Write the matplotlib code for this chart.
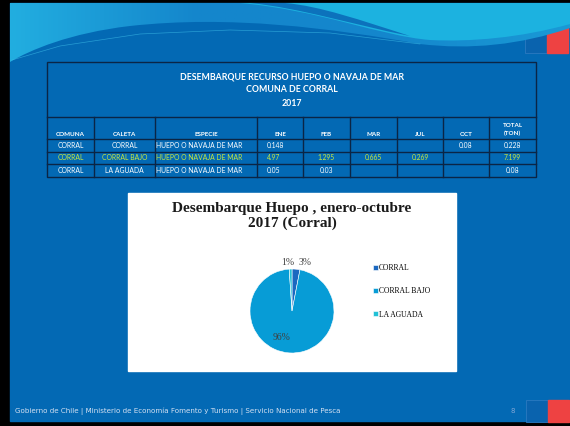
import numpy as np
import matplotlib.pyplot as plt
from matplotlib.patches import Rectangle, PathPatch
from matplotlib.path import Path

W, H = 570, 426

# ---- data ----
comunas = ['CORRAL', 'CORRAL', 'CORRAL']
caletas = ['CORRAL', 'CORRAL BAJO', 'LA AGUADA']
especies = ['HUEPO O NAVAJA DE MAR'] * 3
months = ['ENE', 'FEB', 'MAR', 'JUL', 'OCT']
landings = {
    'ENE': [0.148, 4.97, 0.05],
    'FEB': [None, 1.295, 0.03],
    'MAR': [None, 0.665, None],
    'JUL': [None, 0.269, None],
    'OCT': [0.08, None, None],
}
totals = [0.228, 7.199, 0.08]
headers = ['COMUNA', 'CALETA', 'ESPECIE'] + months + ['TOTAL\n(TON)']
table_title = ['DESEMBARQUE RECURSO HUEPO O NAVAJA DE MAR', 'COMUNA DE CORRAL', '2017']
pie_title = 'Desembarque Huepo , enero-octubre\n2017 (Corral)'
pie_colors = ['#1B68C0', '#079CD6', '#22C1D6']
footer = 'Gobierno de Chile | Ministerio de Economía Fomento y Turismo | Servicio Nacional de Pesca'

SLIDE = '#0369B4'
LINE = '#0B2545'
HILITE = '#CBE83A'
SANS = 'Lato'
SERIF = 'Liberation Serif'

fig = plt.figure(figsize=(W / 100, H / 100), dpi=100)
fig.patch.set_facecolor('black')
bg = fig.add_axes([0, 0, 1, 1])
bg.set_xlim(0, W)
bg.set_ylim(H, 0)
bg.axis('off')

# slide background
bg.add_patch(Rectangle((10, 3), 560, 418, color=SLIDE, zorder=0))

# corner squares
bg.add_patch(Rectangle((525, 25), 22, 28, facecolor='#0A63AE', edgecolor='#2C7AC0', lw=0.6, zorder=1))
bg.add_patch(Rectangle((547, 25), 21, 28, color='#EE4242', zorder=1))
bg.add_patch(Rectangle((526, 400), 22, 22, facecolor='#0A63AE', edgecolor='#2C7AC0', lw=0.6, zorder=1))
bg.add_patch(Rectangle((548, 400), 21, 22, color='#EE4242', zorder=1))

# header wave
M, L, C = Path.MOVETO, Path.LINETO, Path.CURVE4
light = Path([(10, 3), (570, 3), (570, 28),
              (520, 45), (470, 50), (420, 44),
              (330, 28), (230, 15), (130, 26),
              (70, 33), (30, 50), (10, 62), (10, 3)],
             [M, L, L, C, C, C, C, C, C, C, C, C, L])
lp = PathPatch(light, facecolor='none', edgecolor='none', zorder=2)
bg.add_patch(lp)
grad = np.linspace(0, 1, 256).reshape(1, -1)
im = bg.imshow(grad, extent=(10, 570, 70, 3), aspect='auto', zorder=2,
               cmap=plt.matplotlib.colors.LinearSegmentedColormap.from_list(
                   'w', ['#22AEE0', '#1486CC', '#1486CC', '#1A9AD6']))
im.set_clip_path(lp)

cyan = Path([(240, 3), (570, 3), (570, 24),
             (520, 38), (470, 42), (430, 40),
             (380, 36), (320, 10), (240, 3)],
            [M, L, L, C, C, C, C, C, C])
bg.add_patch(PathPatch(cyan, facecolor='#1CB2E0', edgecolor='none', zorder=3))
dark = Path([(250, 3), (300, 8), (350, 24), (410, 36),
             (360, 20), (320, 6), (285, 3)],
            [M, C, C, C, C, C, C])
bg.add_patch(PathPatch(dark, facecolor='#0C72BC', edgecolor='none', zorder=3))
bg.plot([12, 60, 140, 230, 330, 420], [60, 46, 34, 30, 33, 44], color='#3FC0EA', lw=0.5, alpha=0.6, zorder=3)

# ---- table ----
col_edges = [47, 94, 155, 257, 303, 350, 397, 443, 489, 536]
top, title_bot, head_bot = 62, 117, 139
row_edges = [139, 151.5, 164, 176.5]

lw = 1.0
bg.add_patch(Rectangle((col_edges[0], top), col_edges[-1] - col_edges[0], row_edges[-1] - top,
                       facecolor='none', edgecolor=LINE, lw=lw, zorder=4))
for y in [title_bot] + row_edges[:-1]:
    bg.plot([col_edges[0], col_edges[-1]], [y, y], color=LINE, lw=lw, zorder=4)
for x in col_edges[1:-1]:
    bg.plot([x, x], [title_bot, row_edges[-1]], color=LINE, lw=lw, zorder=4)

tx = (col_edges[0] + col_edges[-1]) / 2
for i, t in enumerate(table_title):
    bg.text(tx, 77 + i * 13, t, ha='center', va='center', color='white',
            fontsize=6.3, fontweight='bold', family=SANS, zorder=5)

for j, h in enumerate(headers):
    xc = (col_edges[j] + col_edges[j + 1]) / 2
    y = 129.5 if '\n' in h else 134
    bg.text(xc, y, h, ha='center', va='center', color='white', fontsize=4.5,
            fontweight='bold', family=SANS, linespacing=1.5, zorder=5)

for r in range(3):
    yc = (row_edges[r] + row_edges[r + 1]) / 2
    col = HILITE if r == 1 else 'white'
    kw = dict(va='center', color=col, fontsize=4.9, family=SANS, zorder=5)
    bg.text((col_edges[0] + col_edges[1]) / 2, yc, comunas[r], ha='center', **kw)
    bg.text((col_edges[1] + col_edges[2]) / 2, yc, caletas[r], ha='center', **kw)
    bg.text(col_edges[2] + 1.5, yc, especies[r], ha='left', **kw)
    for j, m in enumerate(months):
        v = landings[m][r]
        if v is None:
            continue
        if m == 'ENE':
            bg.text(col_edges[3] + 10, yc, f'{v:g}', ha='left', **kw)
        else:
            bg.text((col_edges[3 + j] + col_edges[4 + j]) / 2, yc, f'{v:g}', ha='center', **kw)
    bg.text((col_edges[-2] + col_edges[-1]) / 2, yc, f'{totals[r]:g}', ha='center', **kw)

# ---- pie chart panel ----
bg.add_patch(Rectangle((128, 193), 328, 178, color='white', zorder=4))
bg.text(292, 216, pie_title, ha='center', va='center', fontsize=11, fontweight='bold',
        family=SERIF, color='#1a1a1a', linespacing=1.2, zorder=5)

cx, cy, rad, half = 292, 311, 42, 60
pax = fig.add_axes([(cx - half) / W, 1 - (cy + half) / H, 2 * half / W, 2 * half / H])
wedges, texts, autotexts = pax.pie(
    totals, colors=pie_colors, startangle=90, counterclock=False,
    autopct='%1.0f%%', pctdistance=1.15, radius=1,
    wedgeprops=dict(linewidth=0.4, edgecolor='white'),
    textprops=dict(family=SERIF, size=7, color='#404040'))
# small slices: spread labels apart; big slice label inside
px, py = autotexts[0].get_position()
autotexts[0].set_position((px + 0.05, py))
autotexts[0].set_ha('left')
px, py = autotexts[2].get_position()
autotexts[2].set_position((px + 0.1, py))
autotexts[2].set_ha('right')
big = autotexts[1]
big.set_position(tuple(np.array(big.get_position()) * 0.64 / 1.15))
big.set_ha('right')
pax.set_xlim(-half / rad, half / rad)
pax.set_ylim(-half / rad, half / rad)
pax.set_aspect('equal')
pax.axis('off')

fig.legend(wedges, caletas, loc='upper left', bbox_to_anchor=(373 / W, 1 - 264 / H),
           frameon=False, prop=dict(family=SERIF, size=5.5), labelspacing=2.0,
           handlelength=0.6, handleheight=0.6, handletextpad=0.2,
           borderpad=0, borderaxespad=0)

# footer
bg.text(15, 411, footer, ha='left', va='center', fontsize=5.1, color='#D3E0F2',
        family='DejaVu Sans', zorder=5)
bg.text(513, 411, '8', ha='center', va='center', fontsize=5, color='#7FA6D6',
        family='DejaVu Sans', zorder=5)

fig.savefig('out.png', dpi=100, facecolor=fig.get_facecolor())
